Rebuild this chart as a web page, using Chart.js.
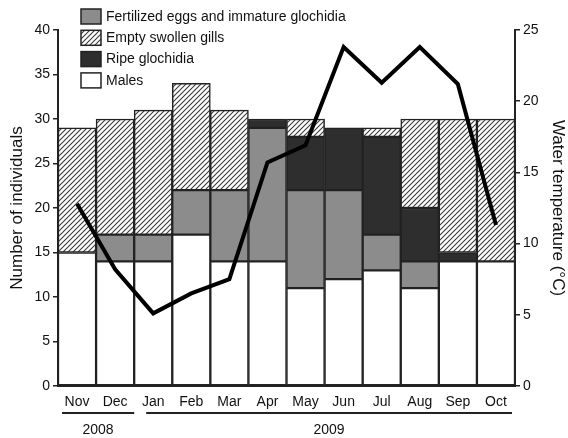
<!DOCTYPE html>
<html>
<head>
<meta charset="utf-8">
<script src="https://cdn.jsdelivr.net/npm/chart.js@4.4.1/dist/chart.umd.min.js"></script>
<style>
  html, body { margin: 0; padding: 0; background: #fff; }
  #wrap { width: 568px; height: 438px; }
</style>
</head>
<body>
<div id="wrap"><canvas id="chart" width="568" height="438"></canvas></div>
<script>
// months and the two years they belong to
var months = ['Nov', 'Dec', 'Jan', 'Feb', 'Mar', 'Apr', 'May', 'Jun', 'Jul', 'Aug', 'Sep', 'Oct'];
var years = [{label: '2008', from: 0, to: 1}, {label: '2009', from: 2, to: 11}];

// stacked counts, bottom to top
var males     = [15, 14, 14, 17, 14, 14, 11, 12, 13, 11, 14, 14];
var fertEggs  = [0, 3, 3, 5, 8, 15, 11, 10, 4, 3, 0, 0];
var ripe      = [0, 0, 0, 0, 0, 1, 6, 7, 11, 6, 1, 0];
var emptyGill = [14, 13, 14, 12, 9, 0, 2, 0, 1, 10, 15, 16];

// water temperature (°C)
var waterTemp = [12.8, 8.2, 5.1, 6.5, 7.5, 15.7, 16.9, 23.8, 21.3, 23.8, 21.2, 11.3];

var countTicks = [0, 5, 10, 15, 20, 25, 30, 35, 40];
var tempTicks = [0, 5, 10, 15, 20, 25];

function hatch() {
    var s = 5;
    var c = document.createElement('canvas');
    c.width = s; c.height = s;
    var g = c.getContext('2d');
    g.fillStyle = '#fff';
    g.fillRect(0, 0, s, s);
    g.strokeStyle = '#3a3a3a';
    g.lineWidth = 1.1;
    g.beginPath();
    g.moveTo(0, s); g.lineTo(s, 0);
    g.moveTo(-1, 1); g.lineTo(1, -1);
    g.moveTo(s - 1, s + 1); g.lineTo(s + 1, s - 1);
    g.stroke();
    return g.createPattern(c, 'repeat');
}
var hatchFill = hatch();

var font = 'Liberation Sans, Arial, sans-serif';
var edge = '#222';

// legend drawn inside the plot, top-left
var legendItems = [
    {text: 'Fertilized eggs and immature glochidia', fill: '#8c8c8c'},
    {text: 'Empty swollen gills', fill: hatchFill},
    {text: 'Ripe glochidia', fill: '#2e2e2e'},
    {text: 'Males', fill: '#fff'}
];

var extras = {
    id: 'extras',
    afterDraw: function(chart) {
        var ctx = chart.ctx;
        ctx.save();
        // legend
        ctx.font = '14px ' + font;
        ctx.textBaseline = 'middle';
        ctx.textAlign = 'left';
        legendItems.forEach(function(it, i) {
            var y = 9 + i * 21.3;
            ctx.fillStyle = it.fill;
            ctx.fillRect(81, y, 20, 15);
            ctx.strokeStyle = edge;
            ctx.lineWidth = 1.5;
            ctx.strokeRect(81, y, 20, 15);
            ctx.fillStyle = '#111';
            ctx.fillText(it.text, 106, y + 8);
        });
        // year brackets under the month labels
        var x = chart.scales.x;
        var half = (x.getPixelForValue(1) - x.getPixelForValue(0)) / 2;
        ctx.strokeStyle = '#222';
        ctx.lineWidth = 2;
        ctx.font = '14px ' + font;
        ctx.textAlign = 'center';
        ctx.fillStyle = '#111';
        years.forEach(function(yr) {
            var a = x.getPixelForValue(yr.from) - half + (yr.from === 0 ? 4 : 12);
            var b = x.getPixelForValue(yr.to) + half - (yr.from === 0 ? 0 : 3);
            ctx.beginPath();
            ctx.moveTo(a, 413);
            ctx.lineTo(b, 413);
            ctx.stroke();
            ctx.fillText(yr.label, (a + b) / 2, 430);
        });
        ctx.restore();
    }
};

var barBase = {borderColor: edge, borderWidth: 1.5, borderSkipped: false, stack: 's', order: 1,
               barPercentage: 1, categoryPercentage: 1, yAxisID: 'y'};

new Chart(document.getElementById('chart'), {
    type: 'bar',
    data: {
        labels: months,
        datasets: [
            {type: 'line', label: 'Water temperature', data: waterTemp, yAxisID: 'y1', order: 0,
             borderColor: '#000', borderWidth: 4, pointRadius: 0, tension: 0, fill: false,
             borderJoinStyle: 'miter'},
            Object.assign({label: 'Males', data: males, backgroundColor: '#fff'}, barBase),
            Object.assign({label: 'Fertilized eggs and immature glochidia', data: fertEggs, backgroundColor: '#8c8c8c'}, barBase),
            Object.assign({label: 'Ripe glochidia', data: ripe, backgroundColor: '#2e2e2e'}, barBase),
            Object.assign({label: 'Empty swollen gills', data: emptyGill, backgroundColor: hatchFill}, barBase)
        ]
    },
    options: {
        responsive: false,
        animation: false,
        layout: {padding: {top: 30, bottom: 0, left: 0, right: 0}},
        plugins: {legend: {display: false}, tooltip: {enabled: false}},
        scales: {
            x: {
                stacked: true,
                grid: {display: false},
                border: {color: edge, width: 2},
                ticks: {color: '#111', font: {family: font, size: 14}, padding: 0, maxRotation: 0},
                afterFit: function(s) { s.height = 52; }
            },
            y: {
                stacked: true,
                min: 0, max: 40,
                afterBuildTicks: function(s) { s.ticks = countTicks.map(function(v) { return {value: v}; }); },
                grid: {drawOnChartArea: false, drawTicks: true, tickLength: 5, color: edge, lineWidth: 1.5},
                border: {color: edge, width: 2},
                ticks: {color: '#111', font: {family: font, size: 14}, padding: 3},
                title: {display: true, text: 'Number of individuals', color: '#111',
                        font: {family: font, size: 17}, padding: {top: 7, bottom: 0}},
                afterFit: function(s) { s.width = 58; }
            },
            y1: {
                position: 'right',
                min: 0, max: 25,
                afterBuildTicks: function(s) { s.ticks = tempTicks.map(function(v) { return {value: v}; }); },
                grid: {drawOnChartArea: false, drawTicks: true, tickLength: 5, color: edge, lineWidth: 1.5},
                border: {color: edge, width: 2},
                ticks: {color: '#111', font: {family: font, size: 14}, padding: 3},
                title: {display: true, text: 'Water temperature (°C)', color: '#111',
                        font: {family: font, size: 17}, padding: {top: 0, bottom: 4}},
                afterFit: function(s) { s.width = 53; }
            }
        }
    },
    plugins: [extras]
});
</script>
</body>
</html>
